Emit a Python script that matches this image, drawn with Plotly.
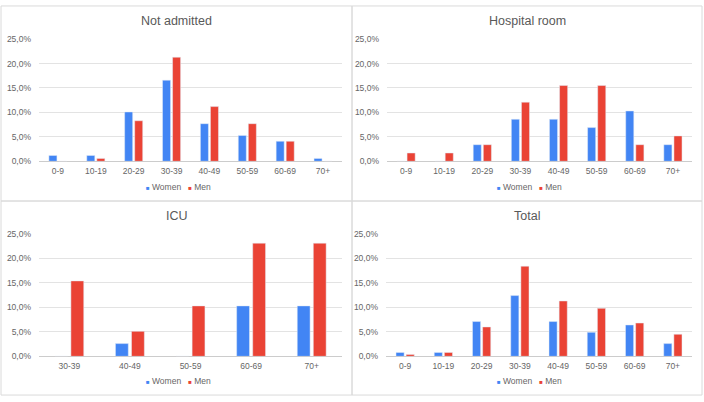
import plotly.graph_objects as go

# age groups
ages = ["0-9", "10-19", "20-29", "30-39", "40-49", "50-59", "60-69", "70+"]
icu_ages = ["30-39", "40-49", "50-59", "60-69", "70+"]

# share of patients in %
not_admitted_women = [1.2, 1.2, 10.1, 16.6, 7.7, 5.3, 4.1, 0.6]
not_admitted_men = [0, 0.6, 8.3, 21.3, 11.2, 7.7, 4.1, 0]

hospital_women = [0, 0, 3.4, 8.6, 8.6, 6.9, 10.3, 3.4]
hospital_men = [1.7, 1.7, 3.4, 12.1, 15.5, 15.5, 3.4, 5.2]

icu_women = [0, 2.6, 0, 10.3, 10.3]
icu_men = [15.4, 5.1, 10.3, 23.1, 23.1]

total_women = [0.8, 0.8, 7.1, 12.4, 7.1, 4.9, 6.4, 2.6]
total_men = [0.4, 0.8, 6.0, 18.4, 11.3, 9.8, 6.8, 4.5]

titles = ["Not admitted", "Hospital room", "ICU", "Total"]
y_ticks = [0, 5, 10, 15, 20, 25]
y_ticktext = ["0,0%", "5,0%", "10,0%", "15,0%", "20,0%", "25,0%"]

W, H = 704, 402
BLUE = "#4285F4"
RED = "#EA4335"
FONT = "Liberation Sans, Arial, sans-serif"


def px_x(v):
    return v / W


def px_y(v):
    return 1 - v / H


# panel frames in pixels: (left, top, right, bottom)
frames = [(1, 1, 352, 201), (352, 1, 702, 201), (1, 201, 352, 400), (352, 201, 702, 400)]
# plot areas in pixels
areas = [(39, 35, 342, 160.3), (387, 35, 692, 160.3),
         (39, 234.7, 342, 360.3), (386, 234.7, 692, 360.3)]

panels = [
    (ages, not_admitted_women, not_admitted_men),
    (ages, hospital_women, hospital_men),
    (icu_ages, icu_women, icu_men),
    (ages, total_women, total_men),
]

sp = "\u00a0"
legend_text = ("<span style='color:%s;font-size:6px'>■</span>%sWomen%s"
               "<span style='color:%s;font-size:6px'>■</span>%sMen"
               % (BLUE, sp, sp * 3, RED, sp))

fig = go.Figure()
layout = {}
annotations = []
shapes = []

for i, (cats, women, men) in enumerate(panels):
    n = "" if i == 0 else str(i + 1)
    xa, ya = "x" + n, "y" + n

    fig.add_trace(go.Bar(x=cats, y=women, name="Women", marker_color=BLUE,
                         xaxis=xa, yaxis=ya, showlegend=False))
    fig.add_trace(go.Bar(x=cats, y=men, name="Men", marker_color=RED,
                         xaxis=xa, yaxis=ya, showlegend=False))

    l, t, r, b = areas[i]
    layout["xaxis" + n] = dict(
        domain=[px_x(l), px_x(r)], anchor=ya, type="category",
        categoryorder="array", categoryarray=cats,
        showgrid=False, ticks="", ticklabelstandoff=3,
        tickfont=dict(size=8.5, color="#666666", family=FONT),
    )
    layout["yaxis" + n] = dict(
        domain=[px_y(b), px_y(t)], anchor=xa, range=[0, 25],
        tickvals=y_ticks, ticktext=y_ticktext,
        showgrid=True, gridcolor="#e3e3e3", gridwidth=1,
        zeroline=True, zerolinecolor="#cccccc", zerolinewidth=1,
        ticks="", ticklabelstandoff=7,
        tickfont=dict(size=8.5, color="#666666", family=FONT),
    )

    fl, ft, fr, fb = frames[i]
    cx = (fl + fr) / 2
    annotations.append(dict(
        text=titles[i], x=px_x(cx), y=px_y(ft + 15), xref="paper", yref="paper",
        xanchor="center", yanchor="middle", showarrow=False,
        font=dict(size=12.5, color="#595959", family=FONT),
    ))
    # legend as text under each panel
    annotations.append(dict(
        text=legend_text, x=px_x(cx + 2), y=px_y(fb - 14), xref="paper", yref="paper",
        xanchor="center", yanchor="middle", showarrow=False,
        font=dict(size=8.5, color="#666666", family=FONT),
    ))
    shapes.append(dict(
        type="rect", xref="paper", yref="paper",
        x0=px_x(fl), x1=px_x(fr), y0=px_y(fb), y1=px_y(ft),
        line=dict(color="#dadada", width=1), fillcolor="rgba(0,0,0,0)",
        layer="below",
    ))

fig.update_layout(
    width=W, height=H,
    margin=dict(l=0, r=0, t=0, b=0),
    paper_bgcolor="white", plot_bgcolor="white",
    barmode="group", bargap=0.47, bargroupgap=0.2,
    showlegend=False,
    annotations=annotations, shapes=shapes,
    font=dict(family=FONT),
    **layout,
)

fig.write_html("out.html", config={"displayModeBar": False},
               post_script="document.body.style.margin='0';document.body.style.overflow='hidden';")
